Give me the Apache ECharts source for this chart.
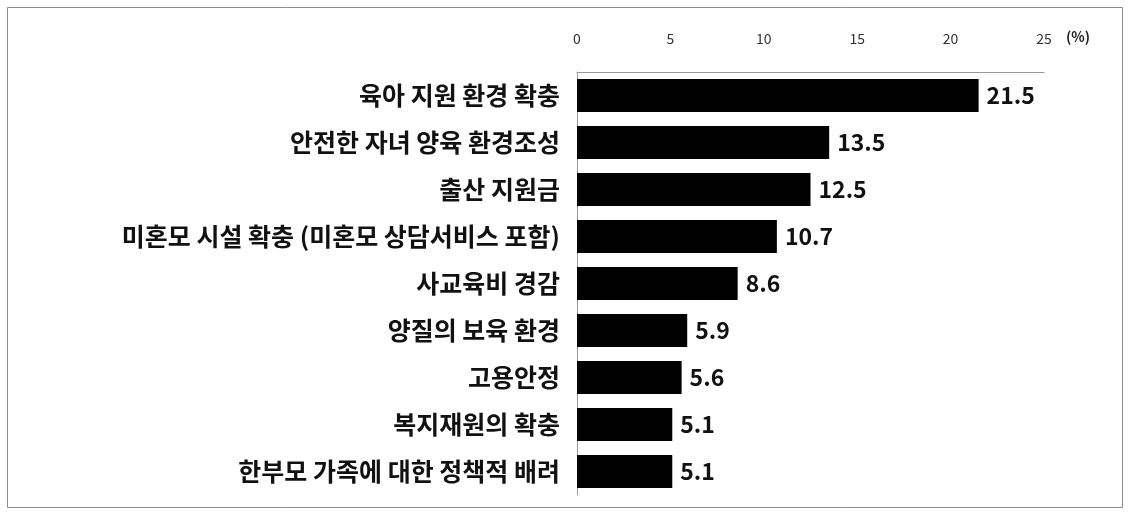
<!DOCTYPE html>
<html>
<head>
<meta charset="utf-8">
<script src="https://cdn.jsdelivr.net/npm/echarts@6/dist/echarts.min.js"></script>
<style>
  html, body { margin: 0; padding: 0; background: #fff; }
  #chart { width: 1131px; height: 517px; }
</style>
</head>
<body>
<div id="chart"></div>
<script>
// 항목
const categories = [
  '육아 지원 환경 확충',
  '안전한 자녀 양육 환경조성',
  '출산 지원금',
  '미혼모 시설 확충 (미혼모 상담서비스 포함)',
  '사교육비 경감',
  '양질의 보육 환경',
  '고용안정',
  '복지재원의 확충',
  '한부모 가족에 대한 정책적 배려'
]
// 비율 (%)
const values = [21.5, 13.5, 12.5, 10.7, 8.6, 5.9, 5.6, 5.1, 5.1]
const xTicks = { min: 0, max: 25, interval: 5 }
const unitLabel = '(%)'

const font = '"Noto Sans CJK KR", "Noto Sans", sans-serif'
let myChart = echarts.init(document.getElementById('chart'))

var option = {
  animation: false,
  grid: { left: 577, right: 87, top: 72, bottom: 22 },
  graphic: [
    {
      type: 'rect',
      shape: { x: 7.5, y: 7.5, width: 1115, height: 500 },
      style: { fill: 'none', stroke: '#8c8c8c', lineWidth: 1 }
    },
    {
      type: 'text',
      left: 1066, top: 30,
      style: { text: unitLabel, font: 'bold 14px ' + font, fill: '#222' }
    }
  ],
  xAxis: {
    type: 'value',
    position: 'top',
    min: xTicks.min, max: xTicks.max, interval: xTicks.interval,
    axisLine: { show: true, lineStyle: { color: '#999', width: 1 } },
    axisTick: { show: false },
    splitLine: { show: false },
    axisLabel: { margin: 26, fontSize: 14, color: '#333', fontFamily: font }
  },
  yAxis: {
    type: 'category',
    inverse: true,
    data: categories,
    axisLine: { show: true, lineStyle: { color: '#999', width: 1 } },
    axisTick: { show: false },
    axisLabel: { margin: 17, fontSize: 25, fontWeight: 'bold', color: '#111', fontFamily: font }
  },
  series: [{
    type: 'bar',
    data: values,
    barCategoryGap: '30%',
    itemStyle: { color: '#000' },
    label: {
      show: true,
      position: 'right',
      distance: 8,
      fontSize: 23,
      fontWeight: 'bold',
      color: '#111',
      fontFamily: font
    }
  }]
}
myChart.setOption(option)
</script>
</body>
</html>
